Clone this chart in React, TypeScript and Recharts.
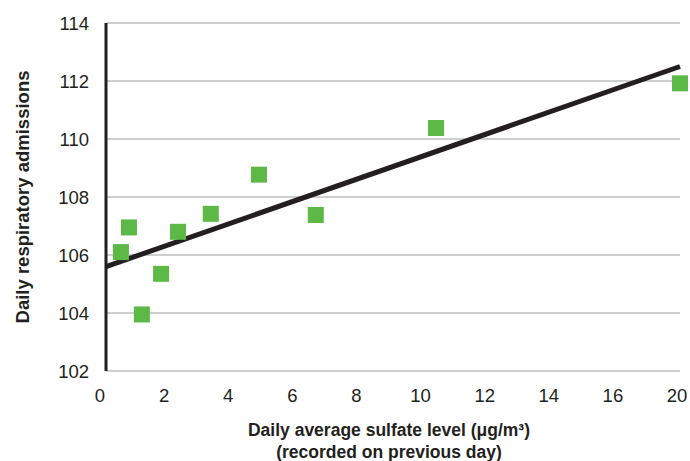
import {
  ScatterChart,
  Scatter,
  XAxis,
  YAxis,
  CartesianGrid,
  Label,
} from 'recharts'

// values
const sulfateLevel = [0.52, 0.8, 1.25, 1.92, 2.51, 3.65, 5.33, 7.31, 11.5, 20]
const admissions = [106.1, 106.95, 103.95, 105.35, 106.8, 107.42, 108.77, 107.38, 110.38, 111.92]
const trendX = [0, 20]
const trendY = [105.6, 112.5]
const xTickLabels = ['0', '2', '4', '6', '8', '10', '12', '14', '16', '20']
const yTicks = [102, 104, 106, 108, 110, 112, 114]

const points = sulfateLevel.map((x, i) => ({ x, y: admissions[i] }))
const trend = trendX.map((x, i) => ({ x, y: trendY[i] }))
const labelSlots = xTickLabels.map((_, i) => i)
const labelAnchors = labelSlots.map((x) => ({ x, y: yTicks[0] }))

const INK = '#231f20'
const GREEN = '#5cb946'
const FONT = '"Liberation Sans", Arial, sans-serif'

function YTitle({ viewBox }: any) {
  const cx = viewBox.x + 22
  const cy = viewBox.y + viewBox.height / 2
  return (
    <text
      x={cx}
      y={cy}
      transform={`rotate(-90, ${cx}, ${cy})`}
      textAnchor="middle"
      dominantBaseline="central"
      fontFamily={FONT}
      fontWeight="bold"
      fontSize={18.5}
      fill={INK}
    >
      Daily respiratory admissions
    </text>
  )
}

function XTitle({ viewBox }: any) {
  const cx = 389
  const y = viewBox.y
  return (
    <text textAnchor="middle" fontFamily={FONT} fontWeight="bold" fontSize={17.5} fill={INK}>
      <tspan x={cx} y={y + 65}>Daily average sulfate level (μg/m³)</tspan>
      <tspan x={cx} y={y + 87}>(recorded on previous day)</tspan>
    </text>
  )
}

function Square(props: any) {
  return <rect x={props.cx - 8} y={props.cy - 8} width={16} height={16} fill={GREEN} />
}

export default function App() {
  return (
    <div style={{ width: 690, height: 461, background: '#fff' }}>
      <style>{'body{margin:0}'}</style>
      <ScatterChart width={690} height={461} margin={{ top: 23, right: 10, bottom: 0, left: 0 }}>
        <CartesianGrid
          xAxisId="data"
          yAxisId="main"
          vertical={false}
          stroke="#bcbec0"
          strokeWidth={1.5}
        />
        <XAxis xAxisId="data" dataKey="x" type="number" domain={[0, 20]} height={0} hide />
        <XAxis
          xAxisId="labels"
          dataKey="x"
          type="number"
          domain={[0, 9]}
          padding={{ left: -6, right: 3 }}
          ticks={labelSlots}
          interval={0}
          tickFormatter={(i: number) => xTickLabels[i] ?? ''}
          height={90}
          tickLine={false}
          tickMargin={12}
          axisLine={false}
          tick={{ fill: INK, fontSize: 18.5, fontFamily: FONT }}
        >
          <Label content={XTitle} />
        </XAxis>
        <XAxis
          xAxisId="top"
          orientation="top"
          type="number"
          domain={[0, 20]}
          height={0}
          tick={false}
          tickLine={false}
          axisLine={{ stroke: INK, strokeWidth: 2.5 }}
        />
        <XAxis
          xAxisId="bottomEdge"
          type="number"
          domain={[0, 20]}
          height={0}
          tick={false}
          tickLine={false}
          axisLine={{ stroke: INK, strokeWidth: 3 }}
        />
        <YAxis
          yAxisId="main"
          dataKey="y"
          type="number"
          domain={[102, 114]}
          ticks={yTicks}
          width={106}
          tickLine={false}
          tickMargin={11}
          axisLine={{ stroke: INK, strokeWidth: 3 }}
          tick={{ fill: INK, fontSize: 18.5, fontFamily: FONT }}
        >
          <Label content={YTitle} />
        </YAxis>
        <YAxis
          yAxisId="right"
          orientation="right"
          type="number"
          domain={[102, 114]}
          width={0}
          tick={false}
          tickLine={false}
          axisLine={{ stroke: INK, strokeWidth: 2.5 }}
        />
        <Scatter
          xAxisId="labels"
          yAxisId="main"
          data={labelAnchors}
          shape={() => <g />}
          isAnimationActive={false}
        />
        <Scatter
          xAxisId="data"
          yAxisId="main"
          data={trend}
          line={{ stroke: INK, strokeWidth: 5 }}
          shape={() => <g />}
          isAnimationActive={false}
        />
        <Scatter
          xAxisId="data"
          yAxisId="main"
          data={points}
          shape={Square}
          isAnimationActive={false}
        />
      </ScatterChart>
    </div>
  )
}
